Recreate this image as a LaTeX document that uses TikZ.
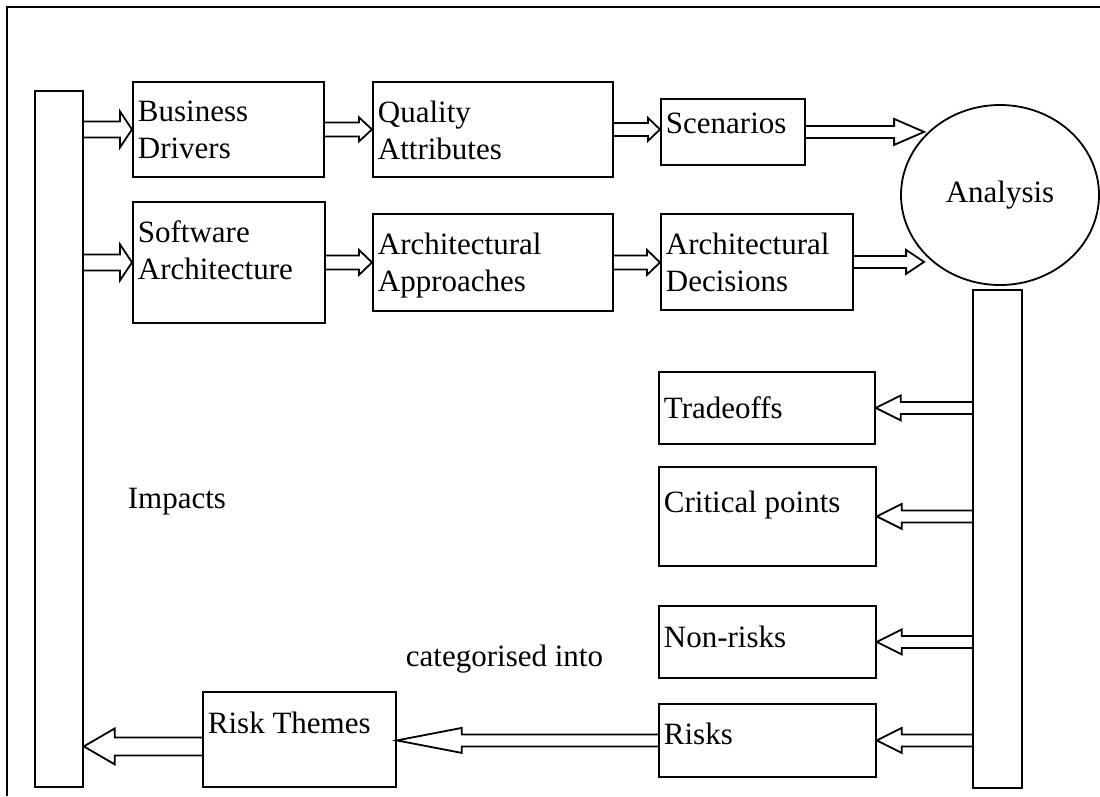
\documentclass[tikz,border=0pt]{standalone}
\usepackage{fontspec}
\setmainfont{Liberation Serif}
\usetikzlibrary{calc}
\usetikzlibrary{shapes.geometric}
\newcommand{\blockarrow}[5] % tail, tip, shaft half width, head half width, head length
{
	\coordinate (ba) at ($(#2)!#5!(#1)$);
	% shaft and head, open at the tail
	\draw ($(#1)!#3!90:(#2)$) -- ($(ba)!#3!90:(#2)$) -- ($(ba)!#4!90:(#2)$) -- (#2)
		-- ($(ba)!#4!-90:(#2)$) -- ($(ba)!#3!-90:(#2)$) -- ($(#1)!#3!-90:(#2)$);
}

\begin{document}
\begin{tikzpicture}[x=1pt, y=-1pt, line width=1.8pt,
	every node/.style={font=\fontsize{31}{37}\selectfont},
	box/.style={draw, rectangle, inner sep=0pt, anchor=north west},
	boxtxt/.style={anchor=north west, align=left, inner sep=0pt}]
	% page 1100 x 796
	\useasboundingbox (0,0) rectangle (1100,796);
	\draw (7,796) -- (7,7) -- (1100,7);

	% bars
	\node[box, minimum width=48pt, minimum height=696pt] (lbar) at (34,90) {};
	\node[box, minimum width=49pt, minimum height=498pt] (rbar) at (972,289) {};

	% inputs
	\node[box, minimum width=191pt, minimum height=95pt] (bd) at (132,81) {};
	\node[box, minimum width=240pt, minimum height=95pt] (qa) at (372,81) {};
	\node[box, minimum width=144pt, minimum height=66pt] (sc) at (660,98) {};
	\node[box, minimum width=192pt, minimum height=121pt] (sa) at (132,201) {};
	\node[box, minimum width=240pt, minimum height=97pt] (aa) at (372,213) {};
	\node[box, minimum width=192pt, minimum height=96pt] (ad) at (660,213) {};
	\node[draw, ellipse, minimum width=198pt, minimum height=180pt, inner sep=0pt] (an) at (1000,195) {Analysis};

	% outputs
	\node[box, minimum width=216pt, minimum height=72pt] (to) at (658,371) {};
	\node[box, minimum width=217pt, minimum height=99pt] (cp) at (658,466) {};
	\node[box, minimum width=217pt, minimum height=72pt] (nr) at (658,605) {};
	\node[box, minimum width=217pt, minimum height=73pt] (rk) at (658,703) {};
	\node[box, minimum width=193pt, minimum height=95pt] (rt) at (202,691) {};

	% box texts
	\node[boxtxt] (bdtxt) at ([xshift=5pt, yshift=-19pt]bd.north west) {Business\\Drivers};
	\node[boxtxt] (qatxt) at ([xshift=5pt, yshift=-19pt]qa.north west) {Quality\\Attributes};
	\node[boxtxt] (sctxt) at ([xshift=5pt, yshift=-14pt]sc.north west) {Scenarios};
	\node[boxtxt] (satxt) at ([xshift=5pt, yshift=-19pt]sa.north west) {Software\\Architecture};
	\node[boxtxt] (aatxt) at ([xshift=5pt, yshift=-19pt]aa.north west) {Architectural\\Approaches};
	\node[boxtxt] (adtxt) at ([xshift=5pt, yshift=-19pt]ad.north west) {Architectural\\Decisions};
	\node[boxtxt] (totxt) at ([xshift=5pt, yshift=-25pt]to.north west) {Tradeoffs};
	\node[boxtxt] (cptxt) at ([xshift=5pt, yshift=-24pt]cp.north west) {Critical points};
	\node[boxtxt] (nrtxt) at ([xshift=5pt, yshift=-20pt]nr.north west) {Non-risks};
	\node[boxtxt] (rktxt) at ([xshift=5pt, yshift=-19pt]rk.north west) {Risks};
	\node[boxtxt] (rttxt) at ([xshift=5pt, yshift=-20pt]rt.north west) {Risk Themes};

	% free texts
	\node[anchor=base west, inner sep=0pt] (imp) at (127,508) {Impacts};
	\node[anchor=base west, inner sep=0pt] (cat) at (405,666) {categorised into};

	% arrow ends off the box edges
	\coordinate (antip) at ([xshift=24pt]an.west);
	\coordinate (rtout) at ([yshift=-7pt]rt.west);

	% arrows
	\blockarrow{lbar.east |- bd.west}{bd.west}{8pt}{18pt}{12pt};
	\blockarrow{lbar.east |- sa.west}{sa.west}{8pt}{18pt}{12pt};
	\blockarrow{bd.east}{qa.west}{7pt}{12pt}{13pt};
	\blockarrow{qa.east}{sc.west |- qa.east}{6.5pt}{11.5pt}{12pt};
	\blockarrow{sa.east}{aa.west |- sa.east}{7pt}{12.5pt}{13pt};
	\blockarrow{aa.east}{ad.west |- aa.east}{7pt}{12.5pt}{13pt};
	\blockarrow{sc.east}{antip |- sc.east}{6pt}{13pt}{30pt};
	\blockarrow{ad.east}{antip |- ad.east}{6pt}{12pt}{18pt};

	\blockarrow{rbar.west |- to.east}{to.east}{6pt}{12.5pt}{25pt};
	\blockarrow{rbar.west |- cp.east}{cp.east}{6pt}{12.5pt}{25pt};
	\blockarrow{rbar.west |- nr.east}{nr.east}{6pt}{12.5pt}{25pt};
	\blockarrow{rbar.west |- rk.east}{rk.east}{6pt}{12.5pt}{25pt};
	\blockarrow{rk.west}{rt.east |- rk.west}{6pt}{12.5pt}{65pt};
	\blockarrow{rtout}{lbar.east |- rtout}{9pt}{18pt}{31pt};
\end{tikzpicture}
\end{document}
